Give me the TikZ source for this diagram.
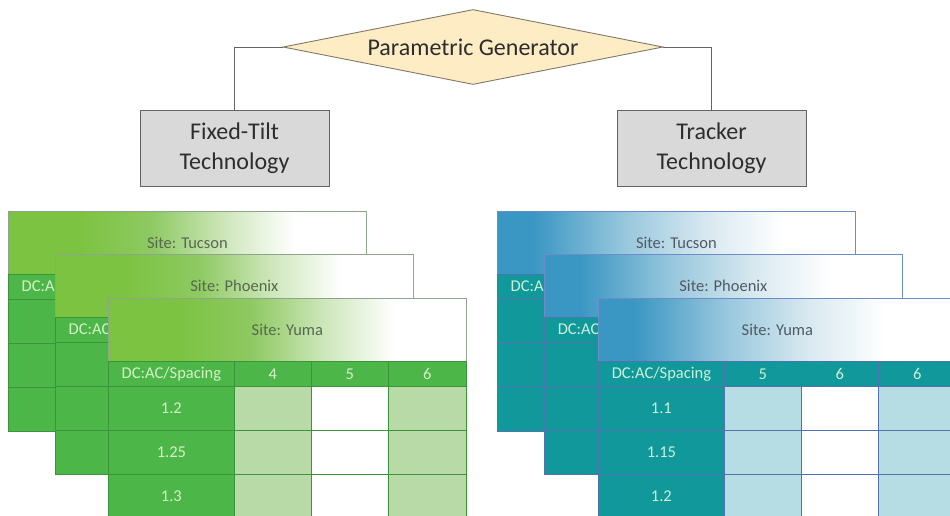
\documentclass[tikz,border=0pt]{standalone}
\usepackage{fontspec}
\setmainfont{Carlito}
\usetikzlibrary{shapes.geometric}
\definecolor{gA}{RGB}{125,195,66}
\definecolor{gB}{RGB}{142,201,98}
\definecolor{gC}{RGB}{205,230,186}
\definecolor{colGbody}{RGB}{76,183,72}
\definecolor{colGline}{RGB}{58,148,58}
\definecolor{colGlight}{RGB}{184,218,166}
\definecolor{colGtxt}{RGB}{215,240,200}
\definecolor{colGheadtxt}{RGB}{85,105,80}
\definecolor{colGheadline}{RGB}{140,165,140}
\definecolor{tA}{RGB}{58,150,195}
\definecolor{tB}{RGB}{150,198,220}
\definecolor{tC}{RGB}{215,232,240}
\definecolor{colTbody}{RGB}{16,152,154}
\definecolor{colTline}{RGB}{80,115,175}
\definecolor{colTlight}{RGB}{182,220,228}
\definecolor{colTtxt}{RGB}{205,240,215}
\definecolor{colTheadtxt}{RGB}{80,90,100}
\definecolor{colTheadline}{RGB}{110,140,200}
\definecolor{diafill}{RGB}{253,236,196}
\definecolor{dialine}{RGB}{130,120,105}
\definecolor{boxfill}{RGB}{217,217,217}
\definecolor{boxline}{RGB}{100,100,100}
\definecolor{textdark}{RGB}{45,45,45}
% gradient stop positions (pt from the table's left edge)
\def\stopga{72}\def\stopgb{143}\def\stopgc{215}\def\stopgd{286}
\def\stopta{36}\def\stoptb{125}\def\stoptc{208}\def\stoptd{286}
\tikzset{
  cell/.style={rectangle, inner sep=0pt, anchor=north west, line width=0.8pt, font=\fontsize{16.5}{18}\selectfont},
  ghead/.style={cell, draw=colGheadline, text=colGheadtxt},
  gbody/.style={cell, draw=colGline, fill=colGbody, text=colGtxt},
  glite/.style={cell, draw=colGline, fill=colGlight},
  gwhite/.style={cell, draw=colGline, fill=white},
  thead/.style={cell, draw=colTheadline, text=colTheadtxt},
  tbody/.style={cell, draw=colTline, fill=colTbody, text=colTtxt},
  tlite/.style={cell, draw=colTline, fill=colTlight},
  twhite/.style={cell, draw=colTline, fill=white},
  gen/.style={diamond, draw=dialine, fill=diafill, line width=0.9pt, aspect=5, inner sep=0pt,
    minimum width=380pt, minimum height=75pt, font=\fontsize{24}{28}\selectfont, text=textdark},
  tech/.style={rectangle, draw=boxline, fill=boxfill, line width=1pt, minimum width=189pt,
    minimum height=76pt, align=center, font=\fontsize{24}{30}\selectfont, text=textdark},
  link/.style={draw=boxline, line width=1pt}
}
\newcommand{\sitetable}[9]{%
  \begin{scope}[shift={(#3,#4)}]
    \edef\sa{\csname stop#2a\endcsname}\edef\sb{\csname stop#2b\endcsname}%
    \edef\sc{\csname stop#2c\endcsname}\edef\sd{\csname stop#2d\endcsname}%
    \fill[#2A] (0,0) rectangle (\sa+0.5,63);
    \shade[left color=#2A, right color=#2B] (\sa,0) rectangle (\sb+0.5,63);
    \shade[left color=#2B, right color=#2C] (\sb,0) rectangle (\sc+0.5,63);
    \shade[left color=#2C, right color=white] (\sc,0) rectangle (\sd+0.5,63);
    \fill[white] (\sd,0) rectangle (358,63);
    \node[#2head, minimum width=358pt, minimum height=63pt] (#1-h) at (0,0) {Site: #5};
    \node[#2body, minimum width=126pt, minimum height=25pt] (#1-c0) at (0,63) {DC:AC/Spacing};
    \node[#2body, minimum width=77pt, minimum height=25pt] (#1-c1) at (126,63) {#6};
    \node[#2body, minimum width=77pt, minimum height=25pt] (#1-c2) at (203,63) {#7};
    \node[#2body, minimum width=78pt, minimum height=25pt] (#1-c3) at (280,63) {#8};
    \foreach \lab [count=\i] in {#9} {
      \pgfmathsetmacro\yy{88+44*(\i-1)}
      \node[#2body, minimum width=126pt, minimum height=44pt] (#1-r\i) at (0,\yy) {\lab};
      \node[#2lite, minimum width=77pt, minimum height=44pt] (#1-r\i a) at (126,\yy) {};
      \node[#2white, minimum width=77pt, minimum height=44pt] (#1-r\i b) at (203,\yy) {};
      \node[#2lite, minimum width=78pt, minimum height=44pt] (#1-r\i c) at (280,\yy) {};
    }
  \end{scope}}
\begin{document}
\begin{tikzpicture}[x=1pt,y=-1pt]
  \fill[white] (0,0) rectangle (950,515);
  \useasboundingbox (0,0) rectangle (950,515);
  \clip (0,0) rectangle (950,515);
  % top
  \node[gen] (gen) at (473,47) {Parametric Generator};
  \node[tech] (fixed) at (234.5,148) {Fixed-Tilt\\Technology};
  \node[tech] (tracker) at (711.5,148) {Tracker\\Technology};
  \draw[link] (gen.west) -| (fixed.north);
  \draw[link] (gen.east) -| (tracker.north);
  % green tables
  \sitetable{gT}{g}{8}{211}{Tucson}{}{}{}{{},{},{}}
  \sitetable{gP}{g}{55}{254}{Phoenix}{}{}{}{{},{},{}}
  \sitetable{gY}{g}{108}{298}{Yuma}{4}{5}{6}{1.2,1.25,1.3}
  % teal tables
  \sitetable{tT}{t}{497}{211}{Tucson}{}{}{}{{},{},{}}
  \sitetable{tP}{t}{544}{254}{Phoenix}{}{}{}{{},{},{}}
  \sitetable{tY}{t}{598}{298}{Yuma}{5}{6}{6}{1.1,1.15,1.2}
\end{tikzpicture}
\end{document}
